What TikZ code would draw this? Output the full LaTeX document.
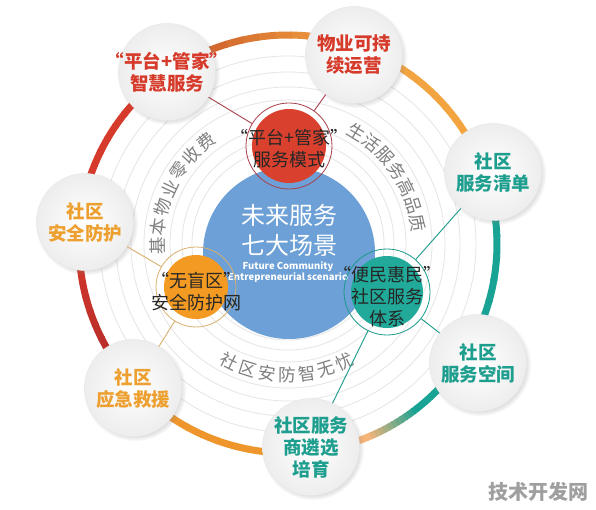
\documentclass[tikz,border=0pt]{standalone}
\usepackage{fontspec}
\setmainfont{Noto Sans CJK SC}
\usetikzlibrary{shadows}

\definecolor{ringred}{HTML}{D63A2A}
\definecolor{ringdark}{HTML}{B02A2A}
\definecolor{ringorange}{HTML}{EE962B}
\definecolor{ringpeach}{HTML}{F5B47A}
\definecolor{ringteal}{HTML}{19A394}
\definecolor{ringlight}{HTML}{F2A440}
\definecolor{ringbrown}{HTML}{C8522A}
\definecolor{coreblue}{HTML}{6CA0D6}
\definecolor{hubred}{HTML}{D9412E}
\definecolor{hubredring}{HTML}{A8404A}
\definecolor{huborange}{HTML}{F29A22}
\definecolor{huborangering}{HTML}{D9B06E}
\definecolor{hubteal}{HTML}{21A99A}
\definecolor{hubtealring}{HTML}{1A9A8A}
\definecolor{satred}{HTML}{D63A2A}
\definecolor{satgold}{HTML}{EDA030}
\definecolor{satteal}{HTML}{1E9E8E}
\definecolor{arcgray}{HTML}{7F7F7F}
\definecolor{hubink}{HTML}{262626}

\begin{document}
\begin{tikzpicture}[x=1pt,y=1pt]
    \tikzstyle{satellite}=[circle, minimum size=97pt, inner sep=0pt, draw=gray!18, shading=radial, inner color=white, outer color=gray!14, circular drop shadow={shadow scale=1.06, opacity=.35}]
    \tikzstyle{sattext}=[align=center, font=\fontsize{18.5}{22}\selectfont\bfseries]
    \tikzstyle{hub}=[circle, inner sep=0pt, line width=0.8pt]
    \tikzstyle{hubtext}=[align=center, text=hubink, font=\fontsize{18}{22}\selectfont]
    \tikzstyle{arctext}=[text=arcgray, inner sep=0pt, font=\fontsize{17.5}{17.5}\selectfont]
    \tikzstyle{outer ring}=[line width=7pt]
    \tikzstyle{link}=[line width=0.9pt]

    \useasboundingbox (0,0) rectangle (596,509);
    \fill[white] (0,0) rectangle (596,509);
    \coordinate (C) at (288,265);

    % white rings
    \foreach \r in {188,172,157,144,118,106,96}
        \draw[draw=gray!20, fill=white, line width=0.8pt] (C) circle (\r);

    % words on the rings
    \foreach \ch [count=\i from 0, evaluate=\i as \a using 181-\i*8.7] in {基,本,物,业,零,收,费}
        \node[arctext, rotate=\a-90] (jiben\i) at ([shift={(\a:131)}]C) {\ch};
    \foreach \ch [count=\i from 0, evaluate=\i as \a using 58.5-\i*8.2] in {生,活,服,务,高,品,质}
        \node[arctext, rotate=\a-90] (shenghuo\i) at ([shift={(\a:131)}]C) {\ch};
    \foreach \ch [count=\i from 0, evaluate=\i as \a using 243.5+\i*8.7] in {社,区,安,防,智,无,忧}
        \node[arctext, rotate=\a+90] (anfang\i) at ([shift={(\a:131)}]C) {\ch};

    % outer coloured ring
    \foreach \from/\to/\ca/\cb in {125/174/ringred/ringred, 174/223/ringred/ringdark, 223/277/ringorange/ringorange, 277/292/ringpeach/ringpeach, 292/308/ringpeach/ringteal, 308/380/ringteal/ringteal, 19/71/ringlight/ringlight, 71/125/ringlight/ringbrown}
        \foreach \i in {0,...,11} {
            \pgfmathsetmacro\a{\from+(\to-\from)*\i/12}
            \pgfmathtruncatemacro\p{100*\i/11}
            \draw[outer ring, draw=\cb!\p!\ca] ([shift={(\a:209)}]C) arc[start angle=\a, delta angle={(\to-\from)/12+0.4}, radius=209];
        }

    % centre
    \node[circle, minimum size=172pt, inner sep=0pt, fill=coreblue] (weilai) at (289,256) {};
    \node[text=white, align=center, font=\fontsize{24}{30}\selectfont] (weilai zh) at (289,279) {未来服务\\七大场景};
    \node[text=white, align=center, font=\fontsize{9.5}{11}\selectfont\bfseries] (weilai en) at (288,237) {Future Community\\Entrepreneurial scenario};

    % three hubs
    \node[hub, minimum size=86pt, draw=hubredring, path picture={\fill[hubred] (path picture bounding box.center) circle (37pt);}] (pingtai) at (289,363) {};
    \node[hubtext] (pingtai text) at (289,360) {“平台+管家”\\服务模式};
    \node[hub, minimum size=80pt, draw=huborangering, path picture={\fill[huborange] (path picture bounding box.center) circle (32pt);}] (wumang) at (196,222) {};
    \node[hubtext] (wumang text) at (196,217) {“无盲区”\\安全防护网};
    \node[hub, minimum size=86pt, draw=hubtealring, path picture={\fill[hubteal] (path picture bounding box.center) circle (36pt);}] (bianmin) at (387,217) {};
    \node[hubtext] (bianmin text) at (387,212) {“便民惠民”\\社区服务\\体系};

    % seven scenes
    \node[satellite] (zhihui) at (167,437) {};
    \node[sattext, text=satred] (zhihui text) at (zhihui) {“平台+管家”\\智慧服务};
    \node[satellite] (yunying) at (354,454) {};
    \node[sattext, text=satred] (yunying text) at (yunying) {物业可持\\续运营};
    \node[satellite] (qingdan) at (493,337) {};
    \node[sattext, text=satteal] (qingdan text) at (qingdan) {社区\\服务清单};
    \node[satellite] (fanghu) at (85,287) {};
    \node[sattext, text=satgold] (fanghu text) at (fanghu) {社区\\安全防护};
    \node[satellite] (jiuyuan) at (133,121) {};
    \node[sattext, text=satgold] (jiuyuan text) at (jiuyuan) {社区\\应急救援};
    \node[satellite] (peiyu) at (311,62) {};
    \node[sattext, text=satteal] (peiyu text) at (peiyu) {社区服务\\商遴选\\培育};
    \node[satellite] (kongjian) at (478,146) {};
    \node[sattext, text=satteal] (kongjian text) at (kongjian) {社区\\服务空间};

    % links
    \draw[link, draw=hubredring] (zhihui) -- (pingtai);
    \draw[link, draw=hubredring] (yunying) -- (pingtai);
    \draw[link, draw=huborangering] (fanghu) -- (wumang);
    \draw[link, draw=huborangering] (jiuyuan) -- (wumang);
    \draw[link, draw=hubtealring] (qingdan) -- (bianmin);
    \draw[link, draw=hubtealring] (kongjian) -- (bianmin);
    \draw[link, draw=hubtealring] (peiyu) -- (bianmin);

    \node[text=gray!75, font=\fontsize{20}{20}\selectfont\bfseries] (mark) at (538,17) {技术开发网};
\end{tikzpicture}
\end{document}
